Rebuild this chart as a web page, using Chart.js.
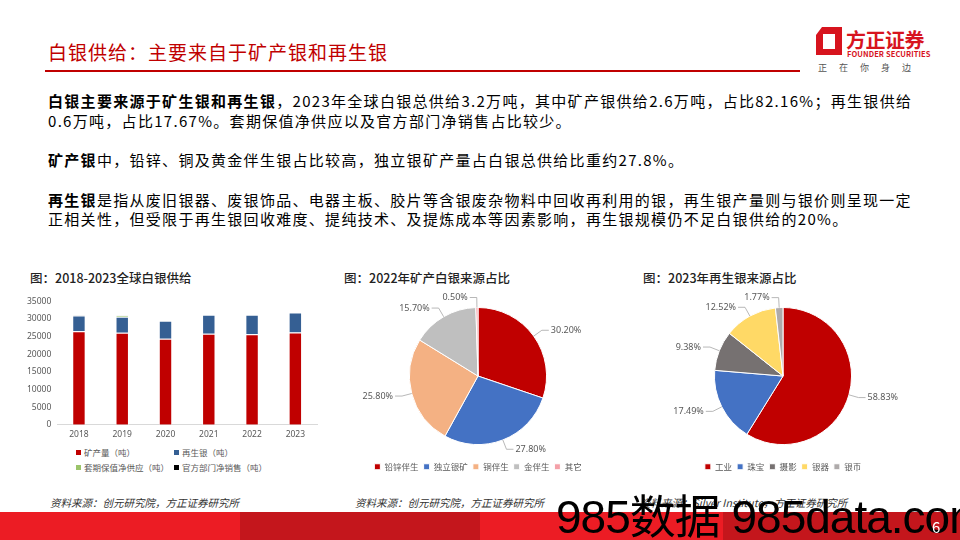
<!DOCTYPE html>
<html>
<head>
<meta charset="utf-8">
<script src="https://cdn.jsdelivr.net/npm/chart.js@4.4.1/dist/chart.umd.min.js"></script>
<style>
body{margin:0;width:960px;height:540px;position:relative;overflow:hidden;background:#fff;
  font-family:"Noto Sans CJK SC","Noto Sans",sans-serif;color:#000}
.a{position:absolute;white-space:nowrap}
.title{left:48px;top:38px;font-size:19px;color:#c00000;letter-spacing:1px}
.rule{left:45px;top:70px;width:755px;height:2px;background:#c00000}
.body{left:48px;font-size:15px;letter-spacing:1.3px}
.body b{font-weight:700}
.ct{font-size:12.5px;color:#222;font-weight:500}
.src{font-size:10.5px;font-style:italic;color:#333;top:495px}
.band{top:512px;height:28px}
.leg{font-size:8.5px;color:#595959;white-space:normal}
.leg i{display:inline-block;width:5px;height:5px;margin-right:3px;vertical-align:1px}
</style>
</head>
<body>

<div class="a title">白银供给：主要来自于矿产银和再生银</div>
<div class="a rule"></div>

<!-- logo -->
<svg class="a" style="left:816px;top:27px" width="26" height="28" viewBox="0 0 26 28">
  <path d="M6 0 H26 V28 H0 V8 Z M7 7 V22 H19 V7 Z" fill="#d7141e" fill-rule="evenodd"/>
</svg>
<div class="a" style="left:846px;top:25px;font-size:20px;font-weight:700;color:#d7141e;letter-spacing:-0.5px">方正证券</div>
<div class="a" style="left:847px;top:48px;font-size:7.5px;font-weight:700;color:#d7141e;letter-spacing:0.1px">FOUNDER SECURITIES</div>
<div class="a" style="left:818px;top:61px;font-size:9px;color:#555;letter-spacing:12px">正在你身边</div>

<div class="a body" style="top:90px"><b>白银主要来源于矿生银和再生银</b>，2023年全球白银总供给3.2万吨，其中矿产银供给2.6万吨，占比82.16%；再生银供给</div>
<div class="a body" style="top:110px">0.6万吨，占比17.67%。套期保值净供应以及官方部门净销售占比较少。</div>
<div class="a body" style="top:149px"><b>矿产银</b>中，铅锌、铜及黄金伴生银占比较高，独立银矿产量占白银总供给比重约27.8%。</div>
<div class="a body" style="top:189px"><b>再生银</b>是指从废旧银器、废银饰品、电器主板、胶片等含银废杂物料中回收再利用的银，再生银产量则与银价则呈现一定</div>
<div class="a body" style="top:208px">正相关性，但受限于再生银回收难度、提纯技术、及提炼成本等因素影响，再生银规模仍不足白银供给的20%。</div>

<div class="a ct" style="left:30px;top:268px">图：2018-2023全球白银供给</div>
<div class="a ct" style="left:344px;top:268px">图：2022年矿产白银来源占比</div>
<div class="a ct" style="left:643px;top:268px">图：2023年再生银来源占比</div>

<canvas id="bar" class="a" style="left:21px;top:290px" width="298" height="155"></canvas>
<div id="barLegend" class="a leg" style="left:76px;top:446px;width:200px"></div>
<canvas id="pie1" class="a" style="left:338px;top:285px" width="280" height="204"></canvas>
<canvas id="pie2" class="a" style="left:643px;top:285px" width="280" height="204"></canvas>

<div class="a src" style="left:50px">资料来源：创元研究院，方正证券研究所</div>
<div class="a src" style="left:355px">资料来源：创元研究院，方正证券研究所</div>
<div class="a src" style="left:640px">资料来源：Silver Institute，方正证券研究所</div>

<div class="a band" style="left:0;width:240px;background:#ec1c24"></div>
<div class="a band" style="left:240px;width:240px;background:#c4161c"></div>
<div class="a band" style="left:480px;width:243px;background:#ec1c24"></div>
<div class="a band" style="left:723px;width:237px;background:#c4161c"></div>

<div class="a" style="left:556px;top:480px;font-size:46px;color:#000;font-family:'Liberation Sans','Noto Sans CJK SC',sans-serif;letter-spacing:-1px">985数据 985data.com</div>
<div class="a" style="left:932px;top:516px;font-size:15px;color:#fff">6</div>

<script>
// 2018-2023 global silver supply (tonnes)
const years = ['2018', '2019', '2020', '2021', '2022', '2023'];
const mine = [26450, 26050, 24360, 25770, 25590, 26130];
const recycled = [4510, 4520, 5080, 5360, 5540, 5620];
const hedging = [0, 450, 0, 0, 0, 0];
const official = [40, 35, 35, 40, 50, 50];
const barNames = ['矿产量（吨）', '再生银（吨）', '套期保值净供应（吨）', '官方部门净销售（吨）'];
const barColors = ['#c00000', '#355f93', '#9bc46a', '#000000'];

// 2022 mine silver by source (%)
const mineSrc = ['铅锌伴生', '独立银矿', '铜伴生', '金伴生', '其它'];
const mineShare = [30.2, 27.8, 25.8, 15.7, 0.5];
const mineColors = ['#c00000', '#4472c4', '#f4b183', '#bfbfbf', '#f4a0a8'];

// 2023 recycled silver by source (%)
const recSrc = ['工业', '珠宝', '摄影', '银器', '银币'];
const recShare = [58.83, 17.49, 9.38, 12.52, 1.77];
const recColors = ['#c00000', '#4472c4', '#767171', '#ffd966', '#aeaaaa'];

Chart.defaults.font.family = '"Noto Sans", "Noto Sans CJK SC", sans-serif';
Chart.defaults.color = '#595959';

new Chart(document.getElementById('bar'), {
    type: 'bar',
    data: {
        labels: years,
        datasets: [mine, recycled, hedging, official].map((d, i) => ({
            label: barNames[i],
            data: d,
            backgroundColor: barColors[i],
            borderColor: 'rgba(255,255,255,0.9)',
            borderWidth: 1,
            barPercentage: 0.62,
            categoryPercentage: 0.5
        }))
    },
    options: {
        responsive: false,
        animation: false,
        layout: {padding: {top: 6, right: 2}},
        plugins: {legend: {display: false}, tooltip: {enabled: false}},
        scales: {
            x: {
                stacked: true,
                grid: {display: false, drawTicks: false},
                border: {color: '#d9d9d9'},
                ticks: {font: {size: 8.5}, padding: 5}
            },
            y: {
                stacked: true,
                min: 0,
                max: 35000,
                ticks: {stepSize: 5000, font: {size: 8.5}, padding: 6, callback: v => String(v)},
                grid: {display: false, drawTicks: false},
                border: {display: false}
            }
        }
    }
});

// legend for the bar chart, two columns like the original
document.getElementById('barLegend').innerHTML = barNames.map((n, i) =>
    '<div style="display:inline-block;width:98px;height:15px;white-space:nowrap"><i style="background:' + barColors[i] + '"></i>' + n + '</div>'
).join('');

// labels outside the slices with leader lines
const outerLabels = {
    id: 'outerLabels',
    afterDatasetsDraw(chart) {
        const ctx = chart.ctx;
        const ds = chart.data.datasets[0];
        const meta = chart.getDatasetMeta(0);
        ctx.save();
        ctx.font = '9px "Noto Sans", sans-serif';
        ctx.fillStyle = '#595959';
        ctx.strokeStyle = '#a6a6a6';
        ctx.lineWidth = 0.8;
        ctx.textBaseline = 'middle';
        meta.data.forEach((arc, i) => {
            const p = arc.getProps(['x', 'y', 'startAngle', 'endAngle', 'outerRadius'], true);
            const mid = (p.startAngle + p.endAngle) / 2;
            const c = Math.cos(mid), s = Math.sin(mid);
            const x1 = p.x + c * p.outerRadius, y1 = p.y + s * p.outerRadius;
            const x2 = p.x + c * (p.outerRadius + 10), y2 = p.y + s * (p.outerRadius + 10);
            const right = c >= 0;
            const x3 = x2 + (right ? 7 : -7);
            ctx.beginPath();
            ctx.moveTo(x1, y1);
            ctx.lineTo(x2, y2);
            ctx.lineTo(x3, y2);
            ctx.stroke();
            ctx.textAlign = right ? 'left' : 'right';
            ctx.fillText(ds.data[i].toFixed(2) + '%', x3 + (right ? 2 : -2), y2);
        });
        ctx.restore();
    }
};

function pie(id, labels, values, colors) {
    new Chart(document.getElementById(id), {
        type: 'pie',
        data: {
            labels: labels,
            datasets: [{data: values, backgroundColor: colors, borderColor: '#fff', borderWidth: 1}]
        },
        options: {
            responsive: false,
            animation: false,
            layout: {padding: {top: 22, bottom: 8}},
            plugins: {
                tooltip: {enabled: false},
                legend: {
                    position: 'bottom',
                    title: {display: true, text: ' ', font: {size: 2}, padding: {top: 0, bottom: 10}},
                    labels: {font: {size: 8.5, family: '"Noto Sans CJK SC", sans-serif'}, boxWidth: 6, boxHeight: 6, padding: 5}
                }
            }
        },
        plugins: [outerLabels]
    });
}

pie('pie1', mineSrc, mineShare, mineColors);
pie('pie2', recSrc, recShare, recColors);
</script>
</body>
</html>
